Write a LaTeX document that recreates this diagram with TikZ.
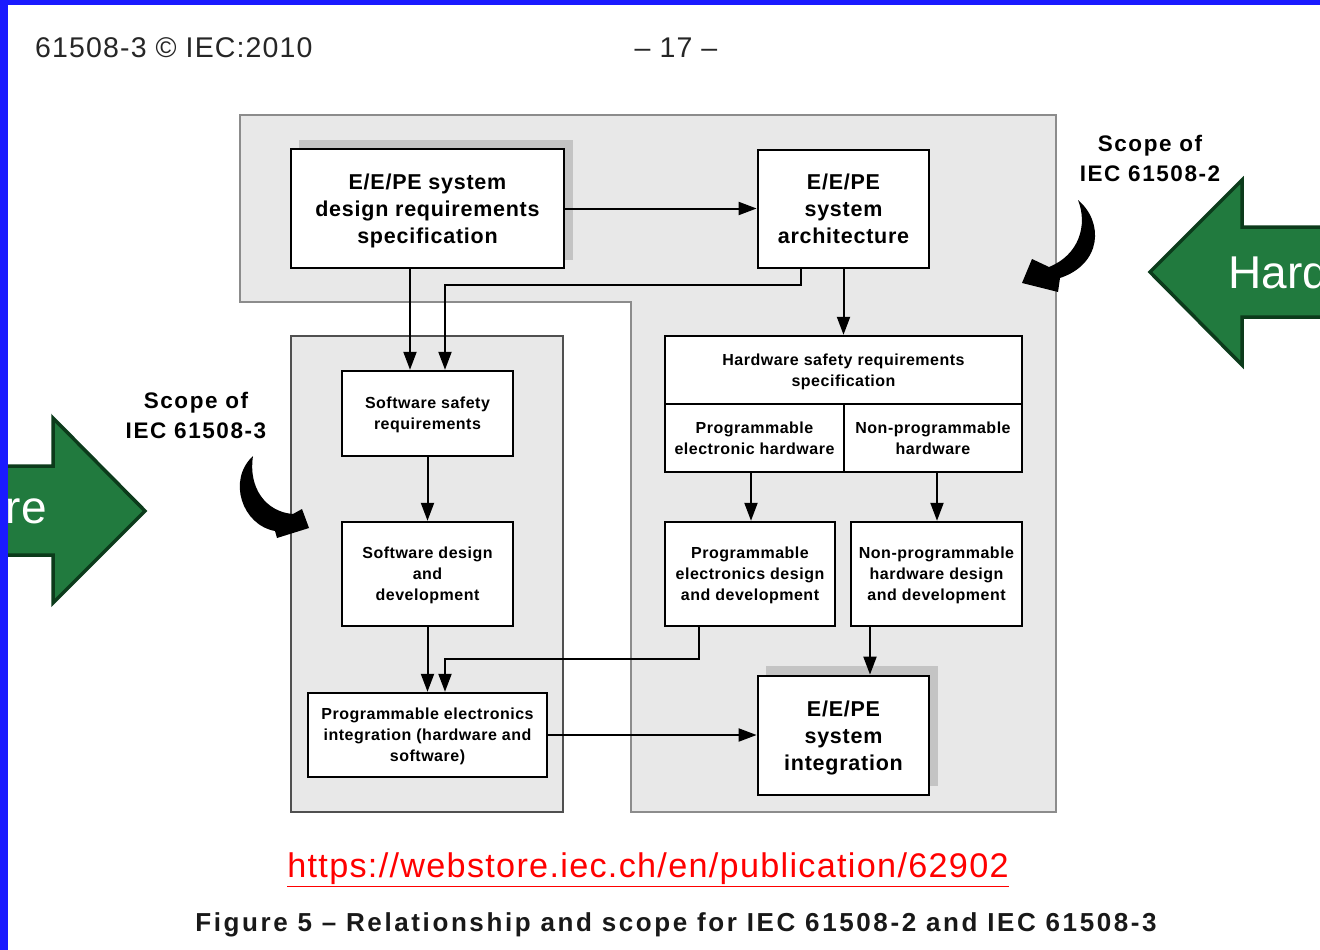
\documentclass[tikz,border=0pt]{standalone}
\usepackage{fontspec}
\setmainfont{Liberation Sans}
\usetikzlibrary{arrows.meta,calc}

\definecolor{bluebar}{HTML}{1A1AFF}
\definecolor{greyfill}{HTML}{E8E8E8}
\definecolor{greyline}{HTML}{8C8C8C}
\definecolor{darkline}{HTML}{505050}
\definecolor{shadowgrey}{HTML}{C4C4C4}
\definecolor{arrowgreen}{HTML}{217A3E}
\definecolor{arrowdark}{HTML}{0C3B1B}
\definecolor{linkred}{HTML}{FF0000}

\begin{document}
\begin{tikzpicture}[x=1pt,y=-1pt,
  bigbox/.style={draw=black, line width=2.8pt, fill=white, align=center, inner sep=0pt,
    text depth=0pt,
    font=\fontsize{21.5}{27}\selectfont\bfseries\addfontfeatures{LetterSpace=3.5}},
  smallbox/.style={draw=black, line width=2.4pt, fill=white, align=center, inner sep=0pt,
    text depth=0pt,
    font=\fontsize{16}{21}\selectfont\bfseries\addfontfeatures{LetterSpace=3.2}},
  conn/.style={line width=2pt, -{Triangle[length=18pt,width=13pt]}},
  scopelabel/.style={align=center, inner sep=0pt,
    font=\fontsize{22.5}{30}\selectfont\bfseries\addfontfeatures{LetterSpace=7}},
  bigarrow/.style={fill=arrowgreen, draw=arrowdark, line width=3.5pt, line join=miter},
  arrowtext/.style={text=white, inner sep=0pt, font=\fontsize{46}{50}\selectfont},
  crescent/.style={fill=black},
  shadowbox/.style={fill=shadowgrey},
  headtext/.style={inner sep=0pt, text=black!85,
    font=\fontsize{28.5}{30}\selectfont\addfontfeatures{LetterSpace=4}}
]
\clip (0,0) rectangle (1320,950);
\fill[white] (0,0) rectangle (1320,950);

% header
\node[headtext, anchor=west] (hdrleft) at (35,48) {61508-3 © IEC:2010};
\node[headtext] (hdrpage) at (676,48) {– 17 –};

% scope regions
\filldraw[fill=greyfill, draw=greyline, line width=1.5pt]
  (240,115) -- (1056,115) -- (1056,812) -- (631,812) -- (631,302) -- (240,302) -- cycle;
\filldraw[fill=greyfill, draw=darkline, line width=1.5pt] (291,336) rectangle (563,812);

% shadows
\fill[shadowbox] (299,140) rectangle (573,260);
\fill[shadowbox] (766,666) rectangle (938,786);

% boxes
\node[bigbox, minimum width=273pt, minimum height=119pt] (A) at (427.5,208.5)
  {E/E/PE system\\design requirements\\specification};
\node[bigbox, minimum width=171pt, minimum height=118pt] (B) at (843.5,209)
  {E/E/PE\\system\\architecture};
\node[smallbox, minimum width=171pt, minimum height=85pt] (C) at (427.5,413.5)
  {Software safety\\requirements};
\node[smallbox, minimum width=171pt, minimum height=104pt] (D) at (427.5,574)
  {Software design\\and\\development};
\node[smallbox, minimum width=239pt, minimum height=84pt] (E) at (427.5,735)
  {Programmable electronics\\integration (hardware and\\software)};
\node[smallbox, minimum width=357pt, minimum height=68pt] (F) at (843.5,370)
  {Hardware safety requirements\\specification};
\node[smallbox, minimum width=179pt, minimum height=68pt] (G) at (754.5,438)
  {Programmable\\electronic hardware};
\node[smallbox, minimum width=178pt, minimum height=68pt] (H) at (933,438)
  {Non-programmable\\hardware};
\node[smallbox, minimum width=170pt, minimum height=104pt] (I) at (750,574)
  {Programmable\\electronics design\\and development};
\node[smallbox, minimum width=171pt, minimum height=104pt] (J) at (936.5,574)
  {Non-programmable\\hardware design\\and development};
\node[bigbox, minimum width=171pt, minimum height=119pt] (K) at (843.5,735.5)
  {E/E/PE\\system\\integration};

% helper coordinates
\coordinate (x410) at (410,0);
\coordinate (x445) at (445,0);
\coordinate (x801) at (801,0);
\coordinate (x699) at (699,0);
\coordinate (x751) at (751,0);
\coordinate (x937) at (937,0);
\coordinate (x870) at (870,0);
\coordinate (y285) at (0,285);
\coordinate (y659) at (0,659);

% connectors
\draw[conn] (A.east) -- (B.west |- A.east);
\draw[conn] (A.south -| x410) -- (C.north -| x410);
\draw[conn] (B.south -| x801) -- (x801 |- y285) -| (C.north -| x445);
\draw[conn] (B.south) -- (F.north);
\draw[conn] (C.south) -- (D.north);
\draw[conn] (D.south) -- (E.north -| D.south);
\draw[conn] (I.south -| x699) -- (x699 |- y659) -| (E.north -| x445);
\draw[conn] (G.south -| x751) -- (I.north -| x751);
\draw[conn] (H.south -| x937) -- (J.north -| x937);
\draw[conn] (J.south -| x870) -- (K.north -| x870);
\draw[conn] (E.east) -- (K.west |- E.east);

% scope labels
\node[scopelabel] (scope2) at (1150,158) {Scope of\\IEC 61508-2};
\node[scopelabel] (scope3) at (196,415) {Scope of\\IEC 61508-3};

% curved arrows
\fill[crescent] (1078,200) .. controls (1104,222) and (1102,264) .. (1060,278)
  -- (1058,292) -- (1022,283) -- (1032,259) -- (1049,267)
  .. controls (1079,255) and (1088,225) .. (1078,200) -- cycle;
\fill[crescent] (253,456) .. controls (227,480) and (242,525) .. (275,531)
  -- (277,538) -- (309,528) -- (302,509) -- (293,514)
  .. controls (266,512) and (248,488) .. (253,456) -- cycle;

% green arrows
\draw[bigarrow] (1340,227) -- (1242,227) -- (1242,180) -- (1150,272) -- (1242,365) -- (1242,317) -- (1340,317) -- cycle;
\node[arrowtext, anchor=west] (hardtext) at (1228,272) {Hard};
\draw[bigarrow] (-20,466) -- (53,466) -- (53,418) -- (145,511) -- (53,603) -- (53,555) -- (-20,555) -- cycle;
\node[arrowtext, anchor=east] (aretext) at (47,511) {are};

% link and caption
\node[inner sep=0pt, text=linkred,
  font=\fontsize{34.2}{36}\selectfont\addfontfeatures{LetterSpace=3.8}] (link) at (648,870)
  {\underline{https://webstore.iec.ch/en/publication/62902}};
\node[inner sep=0pt, text=black!90,
  font=\fontsize{26}{28}\selectfont\bfseries\addfontfeatures{LetterSpace=10}] (caption) at (676,925)
  {Figure 5 – Relationship and scope for IEC 61508-2 and IEC 61508-3};

% blue frame
\fill[bluebar] (0,0) rectangle (1320,5);
\fill[bluebar] (0,0) rectangle (8,950);
\end{tikzpicture}
\end{document}
